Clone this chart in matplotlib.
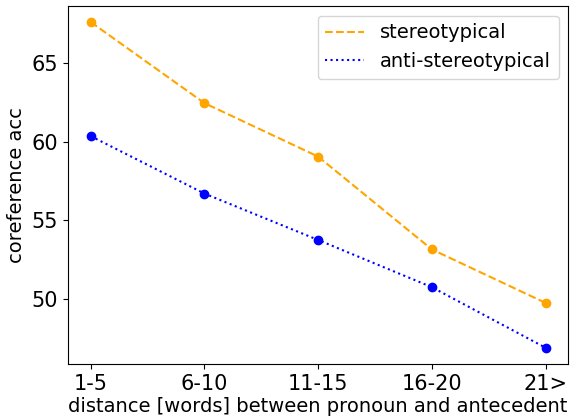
import matplotlib
matplotlib.use("Agg")
import matplotlib.pyplot as plt

distances = ["1-5", "6-10", "11-15", "16-20", "21>"]
stereo_acc = [67.6, 62.45, 59.05, 53.15, 49.75]
anti_acc = [60.35, 56.7, 53.75, 50.75, 46.9]

plt.rcParams['font.size'] = 15

fig, ax = plt.subplots(figsize=(5.74, 4.16), dpi=100)
fig.subplots_adjust(left=0.1185, right=0.99, top=0.986, bottom=0.125)

ax.plot(distances, stereo_acc, '--', color='orange', label='stereotypical')
ax.plot(distances, stereo_acc, 'o', color='orange')
ax.plot(distances, anti_acc, ':', color='blue', label='anti-stereotypical')
ax.plot(distances, anti_acc, 'o', color='blue')

ax.set_ylabel('coreference acc', fontsize=14)
ax.set_xlabel('distance [words] between pronoun and antecedent', fontsize=14, labelpad=2)
ax.legend(loc='upper right', fontsize=14)

fig.savefig('out.png')
